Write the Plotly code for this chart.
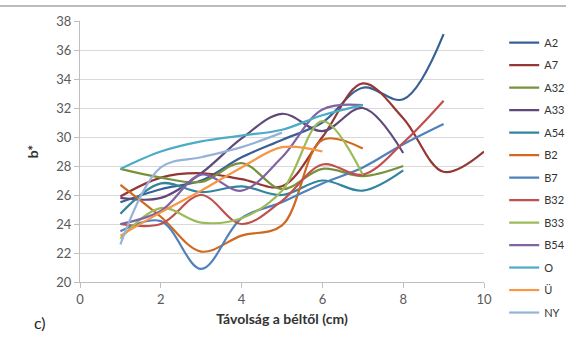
import plotly.graph_objects as go

names = ["A2", "A7", "A32", "A33", "A54", "B2", "B7", "B32", "B33", "B54", "O", "Ü", "NY"]
colors = ["#386096", "#953735", "#76923C", "#5F497A", "#31859C", "#D0691F",
          "#4F81BD", "#C0504D", "#9BBB59", "#8064A2", "#4BACC6", "#F79646", "#95B3D7"]

A2 = [25.5, 26.4, 27.0, 28.6, 29.8, 31.0, 33.4, 32.6, 37.1]
A7 = [25.9, 27.2, 27.5, 27.1, 26.6, 30.0, 33.7, 31.3, 27.6, 29.0]
A32 = [27.8, 27.2, 26.9, 28.2, 26.4, 27.8, 27.3, 28.0]
A33 = [25.8, 25.8, 27.5, 29.9, 31.6, 30.4, 32.0, 28.9]
A54 = [24.7, 26.8, 26.2, 26.6, 26.0, 27.0, 26.3, 27.7]
B2 = [26.7, 24.5, 22.1, 23.2, 23.9, 29.8, 29.2]
B7 = [23.5, 24.2, 20.9, 24.4, 25.5, 26.8, 27.9, 29.5, 30.9]
B32 = [24.0, 24.0, 26.0, 24.0, 25.6, 28.1, 27.4, 29.6, 32.5]
B33 = [23.0, 25.1, 24.1, 24.4, 26.3, 31.1, 27.4]
B54 = [24.0, 24.9, 27.4, 26.3, 28.6, 31.9, 32.2]
O = [27.8, 29.0, 29.7, 30.1, 30.5, 31.5, 32.2]
U = [23.2, 24.8, 26.3, 27.9, 29.3, 29.0]
NY = [22.6, 27.9, 28.6, 29.3, 30.3]

series = [A2, A7, A32, A33, A54, B2, B7, B32, B33, B54, O, U, NY]

fig = go.Figure()
for i, (nm, col, vals) in enumerate(zip(names, colors, series)):
    xs = list(range(1, len(vals) + 1))
    fig.add_trace(go.Scatter(
        x=xs, y=vals, mode="lines", name=nm, legendgroup=nm,
        line=dict(color=col, width=2.2, shape="spline", smoothing=1.0),
    ))

font_family = "Lato, 'Open Sans', sans-serif"
fig.update_layout(
    width=566, height=345,
    margin=dict(l=80, r=82, t=21, b=63, autoexpand=False),
    paper_bgcolor="white", plot_bgcolor="white",
    font=dict(family=font_family, color="#404040"),
    showlegend=True,
    legend=dict(x=1.05, y=0.973, xanchor="left", yanchor="top",
                font=dict(size=11, color="#333333"), tracegroupgap=3.5,
                maxheight=340, bgcolor="rgba(0,0,0,0)"),
    xaxis=dict(range=[0, 10], dtick=2, tick0=0, showgrid=False, automargin=False,
               showline=True, linecolor="#BFBFBF", linewidth=1,
               ticks="outside", ticklen=5, tickcolor="#BFBFBF",
               tickfont=dict(size=13, color="#595959"), zeroline=False,
               title=dict(text="<b>Távolság a béltől (cm)</b>",
                          font=dict(size=14, color="#333333"), standoff=8)),
    yaxis=dict(range=[20, 38], dtick=2, tick0=20, showgrid=True, automargin=False,
               gridcolor="#D9D9D9", gridwidth=1,
               showline=True, linecolor="#BFBFBF", linewidth=1,
               ticks="outside", ticklen=5, tickcolor="#BFBFBF",
               tickfont=dict(size=13, color="#595959"), zeroline=False,
               title=dict(text="<b>b*</b>", font=dict(size=14, color="#333333"),
                          standoff=14)),
)

fig.add_annotation(text="c)", xref="paper", yref="paper",
                   x=(40 - 80) / 404, y=(282 - 322) / 261,
                   xanchor="center", yanchor="middle", showarrow=False,
                   font=dict(size=16, color="#262626", family=font_family))

fig.add_shape(type="line", xref="paper", yref="paper",
              x0=-80 / 404, x1=(566 - 80) / 404,
              y0=(282 - 6) / 261, y1=(282 - 6) / 261,
              line=dict(color="#A6A6A6", width=1.5))

fig.write_html("out.html", post_script="document.body.style.margin='0';",
               config={"displayModeBar": False})
